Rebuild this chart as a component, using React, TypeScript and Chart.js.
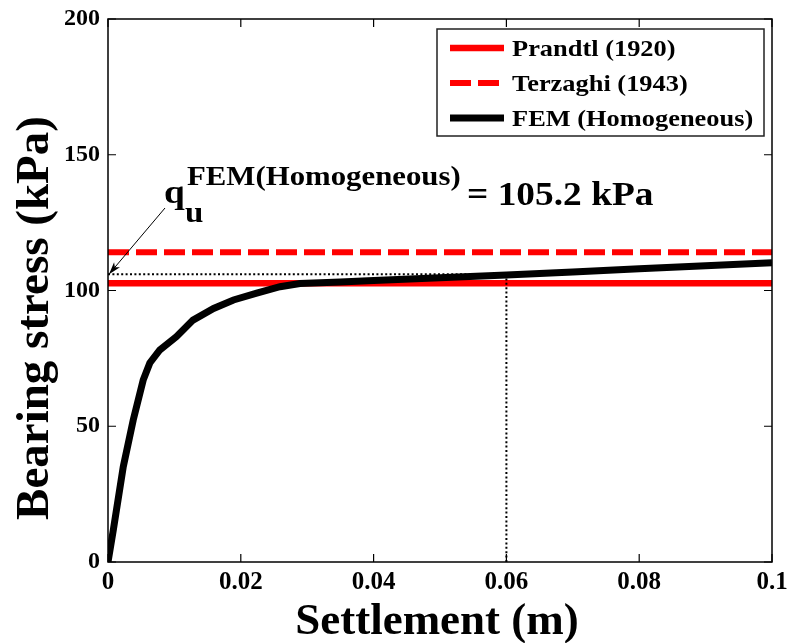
import React, { useEffect, useRef } from "react";
import { Chart, registerables } from "chart.js";
Chart.register(...registerables);

// ---- data ----
const settlement = [0, 0.0008, 0.0023, 0.0038, 0.0053, 0.0063, 0.0078, 0.0103, 0.0128, 0.0159, 0.0189, 0.0224, 0.0259, 0.0289, 0.035, 0.04, 0.05, 0.06, 0.07, 0.08, 0.09, 0.1];
const femStress = [0, 11.8, 35.1, 52.3, 67, 73.3, 78.1, 83, 89.1, 93.4, 96.5, 99, 101.4, 102.6, 103.1, 103.7, 104.7, 105.7, 106.8, 108, 109.1, 110.2];
const prandtlValue = 102.7;
const terzaghiValue = 114.1;
const quSettlement = 0.06;
const quGuideStress = 106;
const quText = "= 105.2 kPa";
const xTicks = [0, 0.02, 0.04, 0.06, 0.08, 0.1];
const yTicks = [0, 50, 100, 150, 200];
const legendLabels = ["Prandtl (1920)", "Terzaghi (1943)", "FEM (Homogeneous)"];
const xTitle = "Settlement (m)";
const yTitle = "Bearing stress (kPa)";

const FONT = "'Liberation Serif', 'Times New Roman', serif";
const STRETCH = 1.1;

function stretchedText(ctx: CanvasRenderingContext2D, text: string, x: number, y: number, font: string) {
  ctx.save();
  ctx.font = font;
  ctx.translate(x, y);
  ctx.scale(STRETCH, 1);
  ctx.fillText(text, 0, 0);
  ctx.restore();
}

export default function App() {
  const ref = useRef<HTMLCanvasElement>(null);

  useEffect(() => {
    const canvas = ref.current!;
    const femData = settlement.map((x, i) => ({ x, y: femStress[i] }));

    const overlay = {
      id: "overlay",
      afterDatasetsDraw(chart: any) {
        const { ctx, chartArea: a, scales } = chart;
        const xs = scales.x, ys = scales.y;
        ctx.save();
        // frame
        ctx.strokeStyle = "#000";
        ctx.lineWidth = 1.5;
        ctx.strokeRect(a.left, a.top, a.right - a.left, a.bottom - a.top);
        // inward ticks
        const tl = 8;
        ctx.lineWidth = 1.2;
        ctx.beginPath();
        xTicks.forEach((v) => {
          const px = xs.getPixelForValue(v);
          ctx.moveTo(px, a.bottom); ctx.lineTo(px, a.bottom - tl);
          ctx.moveTo(px, a.top); ctx.lineTo(px, a.top + tl);
        });
        yTicks.forEach((v) => {
          const py = ys.getPixelForValue(v);
          ctx.moveTo(a.left, py); ctx.lineTo(a.left + tl, py);
          ctx.moveTo(a.right, py); ctx.lineTo(a.right - tl, py);
        });
        ctx.stroke();

        // legend
        const ds = chart.data.datasets;
        const legendSets = [ds[1], ds[2], ds[0]];
        const bx = a.right - 335, by = a.top + 10, bw = 327, bh = 107;
        ctx.fillStyle = "#fff";
        ctx.fillRect(bx, by, bw, bh);
        ctx.strokeStyle = "#222";
        ctx.lineWidth = 1.5;
        ctx.strokeRect(bx, by, bw, bh);
        ctx.textBaseline = "alphabetic";
        ctx.textAlign = "left";
        legendSets.forEach((d: any, i: number) => {
          const ry = by + 19 + i * 35;
          ctx.beginPath();
          ctx.strokeStyle = d.borderColor;
          ctx.lineWidth = d.borderWidth;
          ctx.setLineDash(d.borderDash || []);
          ctx.moveTo(bx + 13, ry);
          ctx.lineTo(bx + 67, ry);
          ctx.stroke();
          ctx.setLineDash([]);
          ctx.fillStyle = "#000";
          stretchedText(ctx, legendLabels[i], bx + 75, ry + 8, `bold 24px ${FONT}`);
        });

        // annotation text
        ctx.fillStyle = "#000";
        stretchedText(ctx, "q", a.left + 56, a.top + 184, `bold 34px ${FONT}`);
        stretchedText(ctx, "u", a.left + 77, a.top + 203, `bold 30px ${FONT}`);
        stretchedText(ctx, "FEM(Homogeneous)", a.left + 79, a.top + 166, `bold 28px ${FONT}`);
        stretchedText(ctx, quText, a.left + 359, a.top + 186, `bold 34px ${FONT}`);

        // arrow
        const ex = xs.getPixelForValue(0) + 1, ey = ys.getPixelForValue(quGuideStress);
        const sx = a.left + 57, sy = a.top + 189;
        ctx.strokeStyle = "#000";
        ctx.lineWidth = 1;
        ctx.beginPath();
        ctx.moveTo(sx, sy);
        ctx.lineTo(ex, ey);
        ctx.stroke();
        const ang = Math.atan2(ey - sy, ex - sx);
        const hl = 13, hw = 0.3;
        ctx.beginPath();
        ctx.moveTo(ex, ey);
        ctx.lineTo(ex - hl * Math.cos(ang - hw), ey - hl * Math.sin(ang - hw));
        ctx.lineTo(ex - hl * 0.7 * Math.cos(ang), ey - hl * 0.7 * Math.sin(ang));
        ctx.lineTo(ex - hl * Math.cos(ang + hw), ey - hl * Math.sin(ang + hw));
        ctx.closePath();
        ctx.fill();
        ctx.restore();
      },
      afterDraw(chart: any) {
        const { ctx, chartArea: a } = chart;
        ctx.save();
        ctx.fillStyle = "#000";
        ctx.textAlign = "center";
        ctx.textBaseline = "alphabetic";
        ctx.font = `bold 45px ${FONT}`;
        ctx.fillText(xTitle, (a.left + a.right) / 2 - 3, 634);
        ctx.translate(48, 318);
        ctx.rotate(-Math.PI / 2);
        ctx.font = `bold 47px ${FONT}`;
        ctx.fillText(yTitle, 0, 0);
        ctx.restore();
      },
    };

    const chart = new Chart(canvas, {
      type: "line",
      data: {
        datasets: [
          {
            label: legendLabels[2],
            data: femData,
            borderColor: "#000",
            borderWidth: 7,
            pointRadius: 0,
            tension: 0,
            order: 1,
          },
          {
            label: legendLabels[0],
            data: [{ x: 0, y: prandtlValue }, { x: 0.1, y: prandtlValue }],
            borderColor: "#ff0000",
            borderWidth: 6.5,
            pointRadius: 0,
            order: 3,
          },
          {
            label: legendLabels[1],
            data: [{ x: 0, y: terzaghiValue }, { x: 0.1, y: terzaghiValue }],
            borderColor: "#ff0000",
            borderWidth: 6,
            borderDash: [21, 7],
            pointRadius: 0,
            order: 3,
          },
          {
            label: "guide-h",
            data: [{ x: 0, y: quGuideStress }, { x: quSettlement, y: quGuideStress }],
            borderColor: "#000",
            borderWidth: 2,
            borderDash: [2, 2.4],
            pointRadius: 0,
            order: 0,
          },
          {
            label: "guide-v",
            data: [{ x: quSettlement, y: 0 }, { x: quSettlement, y: femStress[settlement.indexOf(quSettlement)] }],
            borderColor: "#000",
            borderWidth: 2,
            borderDash: [2, 2.4],
            pointRadius: 0,
            order: 0,
          },
        ],
      },
      options: {
        animation: false,
        responsive: false,
        layout: { padding: { top: 19, right: 19, left: 0, bottom: 0 } },
        plugins: { legend: { display: false }, tooltip: { enabled: false } },
        scales: {
          x: {
            type: "linear",
            min: 0,
            max: 0.1,
            grid: { display: false, drawTicks: false },
            border: { display: false },
            afterBuildTicks: (s: any) => { s.ticks = xTicks.map((v) => ({ value: v })); },
            afterFit: (s: any) => { s.height = 81; s.paddingLeft = 0; s.paddingRight = 0; },
            ticks: {
              font: { family: FONT, size: 25, weight: "bold" },
              color: "#000",
              padding: 6,
              maxRotation: 0,
              autoSkip: false,
              callback: (v: any) => String(v),
            },
          },
          y: {
            type: "linear",
            min: 0,
            max: 200,
            grid: { display: false, drawTicks: false },
            border: { display: false },
            afterBuildTicks: (s: any) => { s.ticks = yTicks.map((v) => ({ value: v })); },
            afterFit: (s: any) => { s.width = 108; s.paddingTop = 0; s.paddingBottom = 0; },
            ticks: {
              font: { family: FONT, size: 24, weight: "bold" },
              color: "#000",
              padding: 8,
              autoSkip: false,
              callback: (v: any) => String(v),
            },
          },
        },
      },
      plugins: [overlay],
    });
    return () => chart.destroy();
  }, []);

  return (
    <div style={{ position: "fixed", left: 0, top: 0, width: 791, height: 643, background: "#fff" }}>
      <canvas ref={ref} width={791} height={643} style={{ width: 791, height: 643, display: "block" }} />
    </div>
  );
}
